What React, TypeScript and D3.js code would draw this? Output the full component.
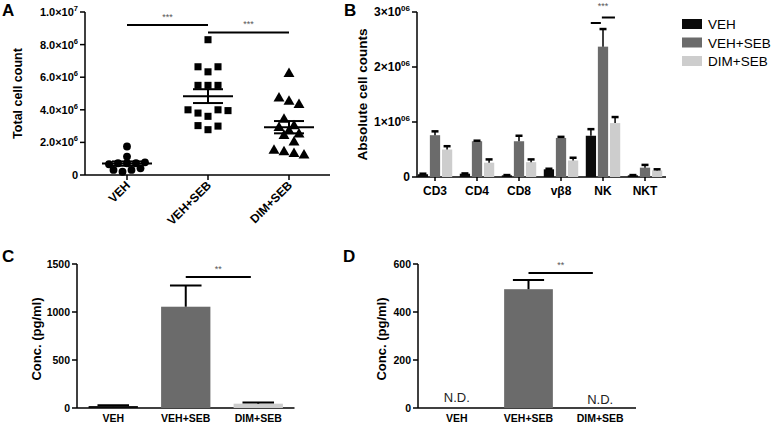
import React from "react";
import * as d3 from "d3";

// panel A: individual counts per mouse
const groupsA = ["VEH", "VEH+SEB", "DIM+SEB"];
const vehA = [1.75, 1.13, 0.66, 0.72, 0.72, 0.72, 0.78, 0.31, 0.2, 0.31, 0.41];
const vehSebA = [8.3, 6.64, 6.33, 6.64, 5.5, 5.5, 5.5, 4.0, 3.8, 3.6, 4.0, 3.95, 3.03, 2.78, 3.0];
const dimSebA = [6.2, 4.7, 4.5, 4.3, 3.4, 3.0, 2.9, 2.7, 2.5, 2.4, 2.0, 1.5, 1.4, 1.3, 1.2];
const ticksA = [0, 2, 4, 6, 8, 10];

// panel B: absolute counts per subset (x10^6)
const cellsB = ["CD3", "CD4", "CD8", "vβ8", "NK", "NKT"];
const seriesB = ["VEH", "VEH+SEB", "DIM+SEB"];
const vehB = [0.05, 0.06, 0.03, 0.14, 0.75, 0.03];
const vehErrB = [0.01, 0.005, 0.005, 0.01, 0.12, 0.005];
const vehSebB = [0.76, 0.65, 0.65, 0.71, 2.37, 0.17];
const vehSebErrB = [0.07, 0.01, 0.1, 0.02, 0.32, 0.05];
const dimSebB = [0.5, 0.26, 0.27, 0.3, 0.98, 0.12];
const dimSebErrB = [0.06, 0.06, 0.05, 0.05, 0.11, 0.02];
const ticksB = [0, 1, 2, 3];

// panels C and D: cytokine concentration
const groupsCD = ["VEH", "VEH+SEB", "DIM+SEB"];
const concC = [20, 1055, 45];
const errC = [8, 220, 12];
const ticksC = [0, 500, 1000, 1500];
const concD: (number | null)[] = [null, 495, null];
const errD = [0, 38, 0];
const ticksD = [0, 200, 400, 600];

const colors = ["#0a0a0a", "#6b6b6b", "#cdcdcd"];
const font = "Liberation Sans, Arial, sans-serif";

// simple Prism-like scatter spreading
function swarm(vals: number[], y: (v: number) => number, thr: number, step: number) {
  const pts = vals.map((v, i) => ({ v, i, py: y(v), dx: 0 }));
  const sorted = [...pts].sort((a, b) => a.py - b.py);
  const rows: typeof pts[] = [];
  for (const p of sorted) {
    const r = rows[rows.length - 1];
    if (r && p.py - r[0].py < thr) r.push(p);
    else rows.push([p]);
  }
  rows.forEach((r) => {
    r.sort((a, b) => a.i - b.i);
    r.forEach((p, k) => (p.dx = (k - (r.length - 1) / 2) * step));
  });
  return pts;
}

const mean = (a: number[]) => d3.mean(a) as number;
const sem = (a: number[]) => (d3.deviation(a) as number) / Math.sqrt(a.length);

function PanelA() {
  const y = d3.scaleLinear().domain([0, 10]).range([175, 12]);
  const x = d3.scalePoint().domain(groupsA).range([127, 289]);
  const sets = [vehA, vehSebA, dimSebA];
  const shapes = [d3.symbolCircle, d3.symbolSquare, d3.symbolTriangle];
  const sizes = [48, 50, 52];
  const thr = [5, 7, 7];
  const steps = [9, 10, 10];
  return (
    <g>
      <text x={2} y={16} fontSize={17} fontWeight="bold">A</text>
      <text transform={`translate(22,${(y(10) + y(0)) / 2}) rotate(-90)`} textAnchor="middle" fontSize={12.5} fontWeight="bold">Total cell count</text>
      <line x1={85} x2={85} y1={y(10)} y2={y(0)} stroke="#000" strokeWidth={1.5} />
      <line x1={85} x2={330} y1={y(0)} y2={y(0)} stroke="#000" strokeWidth={1.5} />
      {ticksA.map((t) => (
        <g key={t}>
          <line x1={80} x2={85} y1={y(t)} y2={y(t)} stroke="#000" strokeWidth={1.5} />
          <text x={78} y={y(t) + 4} textAnchor="end" fontSize={11} fontWeight="bold">
            {t === 0 ? "0" : t === 10 ? "1.0×10" : `${t.toFixed(1)}×10`}
            {t !== 0 && <tspan dy={-5} fontSize={7.5}>{t === 10 ? "7" : "6"}</tspan>}
          </text>
        </g>
      ))}
      {groupsA.map((g, gi) => {
        const cx = x(g) as number;
        const vals = sets[gi];
        const m = mean(vals);
        const s = sem(vals);
        const sym = d3.symbol().type(shapes[gi]).size(sizes[gi])();
        return (
          <g key={g}>
            <line x1={cx} x2={cx} y1={y(0)} y2={y(0) + 5} stroke="#000" strokeWidth={1.5} />
            <text transform={`translate(${cx + 4},${y(0) + 11}) rotate(-45)`} textAnchor="end" fontSize={12} fontWeight="bold">{g}</text>
            {swarm(vals, y, thr[gi], steps[gi]).map((p, k) => (
              <path key={k} d={sym as string} transform={`translate(${cx + p.dx},${p.py})`} fill="#000" />
            ))}
            <line x1={cx - 25} x2={cx + 25} y1={y(m)} y2={y(m)} stroke="#000" strokeWidth={2} />
            <line x1={cx} x2={cx} y1={y(m - s)} y2={y(m + s)} stroke="#000" strokeWidth={2} />
            <line x1={cx - 15} x2={cx + 15} y1={y(m + s)} y2={y(m + s)} stroke="#000" strokeWidth={2} />
            <line x1={cx - 15} x2={cx + 15} y1={y(m - s)} y2={y(m - s)} stroke="#000" strokeWidth={2} />
          </g>
        );
      })}
      <line x1={x("VEH")} x2={x("VEH+SEB")} y1={y(9.2)} y2={y(9.2)} stroke="#000" strokeWidth={2} />
      <text x={((x("VEH") as number) + (x("VEH+SEB") as number)) / 2} y={y(9.2) - 5} textAnchor="middle" fontSize={9} fill="#555">***</text>
      <line x1={x("VEH+SEB")} x2={x("DIM+SEB")} y1={y(8.75)} y2={y(8.75)} stroke="#000" strokeWidth={2} />
      <text x={((x("VEH+SEB") as number) + (x("DIM+SEB") as number)) / 2} y={y(8.75) - 5} textAnchor="middle" fontSize={9} fill="#555">***</text>
    </g>
  );
}

function PanelB() {
  const y = d3.scaleLinear().domain([0, 3]).range([177, 12]);
  const x = d3.scaleBand().domain(cellsB).range([414, 666]).paddingInner(0.18).paddingOuter(0.09);
  const xi = d3.scaleBand().domain(seriesB).range([0, x.bandwidth()]).paddingInner(0.15);
  const vals = [vehB, vehSebB, dimSebB];
  const errs = [vehErrB, vehSebErrB, dimSebErrB];
  const nk = (x("NK") as number);
  return (
    <g>
      <text x={344} y={16} fontSize={17} fontWeight="bold">B</text>
      <text transform={`translate(367,${(y(3) + y(0)) / 2}) rotate(-90)`} textAnchor="middle" fontSize={13.5} fontWeight="bold">Absolute cell counts</text>
      <line x1={417} x2={417} y1={y(3)} y2={y(0)} stroke="#000" strokeWidth={1.5} />
      <line x1={417} x2={666} y1={y(0)} y2={y(0)} stroke="#000" strokeWidth={1.5} />
      {ticksB.map((t) => (
        <g key={t}>
          <line x1={412} x2={417} y1={y(t)} y2={y(t)} stroke="#000" strokeWidth={1.5} />
          <text x={410} y={y(t) + 4} textAnchor="end" fontSize={12} fontWeight="bold">
            {t === 0 ? "0" : `${t}×10`}
            {t !== 0 && <tspan dy={-5} fontSize={8}>06</tspan>}
          </text>
        </g>
      ))}
      {cellsB.map((c, ci) => {
        const gx = x(c) as number;
        return (
          <g key={c}>
            <line x1={gx + x.bandwidth() / 2} x2={gx + x.bandwidth() / 2} y1={y(0)} y2={y(0) + 4} stroke="#000" strokeWidth={1.5} />
            <text x={gx + x.bandwidth() / 2} y={y(0) + 18} textAnchor="middle" fontSize={12} fontWeight="bold">{c}</text>
            {seriesB.map((s, si) => {
              const bx = gx + (xi(s) as number);
              const bw = xi.bandwidth();
              const v = vals[si][ci];
              const e = errs[si][ci];
              const mx = bx + bw / 2;
              return (
                <g key={s}>
                  <rect x={bx} y={y(v)} width={bw} height={y(0) - y(v)} fill={colors[si]} />
                  <line x1={mx} x2={mx} y1={y(v)} y2={y(v + e)} stroke="#000" strokeWidth={1.5} />
                  <line x1={mx - 3.5} x2={mx + 3.5} y1={y(v + e)} y2={y(v + e)} stroke="#000" strokeWidth={2.5} />
                </g>
              );
            })}
          </g>
        );
      })}
      <line x1={nk + (xi("VEH") as number) + 5} x2={nk + (xi("VEH+SEB") as number) + 3} y1={y(2.8)} y2={y(2.8)} stroke="#000" strokeWidth={2} />
      <line x1={nk + (xi("VEH+SEB") as number) + 4} x2={nk + (xi("DIM+SEB") as number) + 5} y1={y(2.9)} y2={y(2.9)} stroke="#000" strokeWidth={2} />
      <text x={nk + x.bandwidth() / 2} y={y(3.06)} textAnchor="middle" fontSize={9} fill="#555">***</text>
      {seriesB.map((s, si) => (
        <g key={s}>
          <rect x={682} y={19 + si * 18.5} width={20} height={10} fill={colors[si]} />
          <text x={708} y={29 + si * 18.5} fontSize={13.5}>{s}</text>
        </g>
      ))}
    </g>
  );
}

function BarPanel({ label, lx, ylx, axisX, range, vals, errs, ticks, max, sigY, sigFrom, sigTo }: any) {
  const y = d3.scaleLinear().domain([0, max]).range([408, 264]);
  const x = d3.scaleBand().domain(groupsCD).range(range).paddingInner(0.32).paddingOuter(0.16);
  const bw = x.bandwidth();
  const c1 = (x(sigFrom) as number) + bw / 2;
  const c2 = (x(sigTo) as number) + bw / 2 - bw * 0.15;
  return (
    <g>
      <text x={lx} y={262} fontSize={17} fontWeight="bold">{label}</text>
      <text transform={`translate(${ylx},339) rotate(-90)`} textAnchor="middle" fontSize={13} fontWeight="bold">Conc. (pg/ml)</text>
      <line x1={axisX} x2={axisX} y1={y(max)} y2={y(0)} stroke="#000" strokeWidth={1.5} />
      <line x1={axisX} x2={range[1]} y1={y(0)} y2={y(0)} stroke="#000" strokeWidth={1.5} />
      {ticks.map((t: number) => (
        <g key={t}>
          <line x1={axisX - 5} x2={axisX} y1={y(t)} y2={y(t)} stroke="#000" strokeWidth={1.5} />
          <text x={axisX - 7} y={y(t) + 4} textAnchor="end" fontSize={10.5} fontWeight="bold">{t}</text>
        </g>
      ))}
      {groupsCD.map((g, gi) => {
        const bx = x(g) as number;
        const mx = bx + bw / 2;
        const v = vals[gi];
        return (
          <g key={g}>
            <text x={mx} y={422} textAnchor="middle" fontSize={10.5} fontWeight="bold">{g}</text>
            {v === null ? (
              <text x={mx} y={gi === 0 ? 402 : 404} textAnchor="middle" fontSize={13} fill="#222">N.D.</text>
            ) : (
              <g>
                <rect x={bx} y={y(v)} width={bw} height={y(0) - y(v)} fill={colors[gi]} />
                <line x1={mx} x2={mx} y1={y(v)} y2={y(v + errs[gi])} stroke="#000" strokeWidth={2} />
                <line x1={mx - bw * 0.32} x2={mx + bw * 0.32} y1={y(v + errs[gi])} y2={y(v + errs[gi])} stroke="#000" strokeWidth={2} />
              </g>
            )}
          </g>
        );
      })}
      <line x1={c1} x2={c2} y1={y(sigY)} y2={y(sigY)} stroke="#000" strokeWidth={2} />
      <text x={(c1 + c2) / 2} y={y(sigY) - 5} textAnchor="middle" fontSize={9} fill="#555">**</text>
    </g>
  );
}

export default function App() {
  return (
    <svg width={774} height={424} style={{ position: "absolute", left: 0, top: 0, fontFamily: font, background: "#fff" }}>
      <rect width={774} height={424} fill="#fff" />
      <PanelA />
      <PanelB />
      <BarPanel label="C" lx={2} ylx={41} axisX={77} range={[77, 294.5]} vals={concC} errs={errC} ticks={ticksC} max={1500} sigY={1365} sigFrom="VEH+SEB" sigTo="DIM+SEB" />
      <BarPanel label="D" lx={343} ylx={386} axisX={418} range={[421, 636]} vals={concD} errs={errD} ticks={ticksD} max={600} sigY={562} sigFrom="VEH+SEB" sigTo="DIM+SEB" />
    </svg>
  );
}
